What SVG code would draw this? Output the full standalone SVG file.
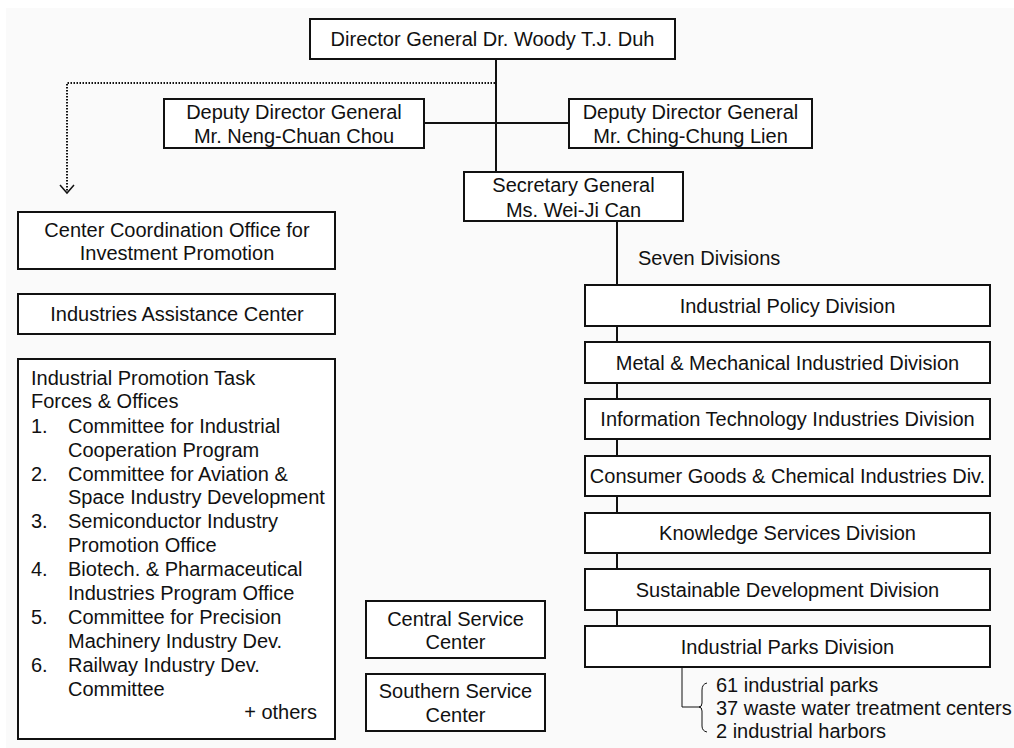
<svg xmlns="http://www.w3.org/2000/svg" width="1014" height="748" viewBox="0 0 1014 748">
<style>
  .box { fill: #ffffff; stroke: #111111; stroke-width: 2; }
  .t { font-family: "Liberation Sans", Arial, sans-serif; font-size: 20px; fill: #111111; }
  .c { text-anchor: middle; }
  .r { text-anchor: end; }
  .ln { stroke: #111111; stroke-width: 2; fill: none; }
  .thin { stroke: #111111; stroke-width: 1; fill: none; }
  .dot { stroke: #111111; stroke-width: 2; fill: none; stroke-dasharray: 1.5 1.5; }
</style>
<rect x="0" y="0" width="1014" height="748" fill="#ffffff"/>
<rect x="6" y="8" width="1008" height="740" fill="#fafafa"/>

<g id="connectors">
  <line class="ln" x1="496" y1="59" x2="496" y2="172"/>
  <line class="ln" x1="424" y1="123" x2="569" y2="123"/>
  <polyline class="dot" points="495,83 67,83 67,192"/>
  <polyline class="ln" points="60,185 67,193 74,185" style="stroke-width:1.5"/>
  <line class="ln" x1="617" y1="221" x2="617" y2="285"/>
  <line class="ln" x1="617" y1="326" x2="617" y2="342"/>
  <line class="ln" x1="617" y1="383" x2="617" y2="399"/>
  <line class="ln" x1="617" y1="439" x2="617" y2="456"/>
  <line class="ln" x1="617" y1="496" x2="617" y2="513"/>
  <line class="ln" x1="617" y1="553" x2="617" y2="569"/>
  <line class="ln" x1="617" y1="610" x2="617" y2="626"/>
  <polyline class="thin" points="682,667 682,707 701,707"/>
  <path class="thin" d="M707,683 Q702,684 702,690 L702,703 Q702,707 699,707 Q702,707 702,711 L702,726 Q702,731 707,732"/>
</g>

<g id="director">
  <rect class="box" x="310" y="19" width="365" height="40"/>
  <text class="t c" x="492.5" y="46">Director General Dr. Woody T.J. Duh</text>
</g>
<g id="deputy-left">
  <rect class="box" x="164" y="99" width="260" height="49"/>
  <text class="t c" x="294" y="119">Deputy Director General</text>
  <text class="t c" x="294" y="143">Mr. Neng-Chuan Chou</text>
</g>
<g id="deputy-right">
  <rect class="box" x="569" y="99" width="243" height="49"/>
  <text class="t c" x="690.5" y="119">Deputy Director General</text>
  <text class="t c" x="690.5" y="143">Mr. Ching-Chung Lien</text>
</g>
<g id="secretary">
  <rect class="box" x="464" y="172" width="219" height="49"/>
  <text class="t c" x="573.5" y="192">Secretary General</text>
  <text class="t c" x="573.5" y="217">Ms. Wei-Ji Can</text>
</g>
<g id="seven-divisions-label">
  <text class="t" x="638" y="265">Seven Divisions</text>
</g>

<g id="div-policy">
  <rect class="box" x="585" y="285" width="405" height="41"/>
  <text class="t c" x="787.5" y="312.5">Industrial Policy Division</text>
</g>
<g id="div-metal">
  <rect class="box" x="585" y="342" width="405" height="41"/>
  <text class="t c" x="787.5" y="369.5">Metal &amp; Mechanical Industried Division</text>
</g>
<g id="div-it">
  <rect class="box" x="585" y="399" width="405" height="40"/>
  <text class="t c" x="787.5" y="426">Information Technology Industries Division</text>
</g>
<g id="div-consumer">
  <rect class="box" x="585" y="456" width="405" height="40"/>
  <text class="t c" x="787.5" y="483">Consumer Goods &amp; Chemical Industries Div.</text>
</g>
<g id="div-knowledge">
  <rect class="box" x="585" y="513" width="405" height="40"/>
  <text class="t c" x="787.5" y="540">Knowledge Services Division</text>
</g>
<g id="div-sustainable">
  <rect class="box" x="585" y="569" width="405" height="41"/>
  <text class="t c" x="787.5" y="596.5">Sustainable Development Division</text>
</g>
<g id="div-parks">
  <rect class="box" x="585" y="626" width="405" height="41"/>
  <text class="t c" x="787.5" y="653.5">Industrial Parks Division</text>
</g>
<g id="parks-list">
  <text class="t" x="716" y="692">61 industrial parks</text>
  <text class="t" x="716" y="715">37 waste water treatment centers</text>
  <text class="t" x="716" y="738">2 industrial harbors</text>
</g>

<g id="cco">
  <rect class="box" x="18" y="212" width="317" height="57"/>
  <text class="t c" x="177" y="237">Center Coordination Office for</text>
  <text class="t c" x="177" y="260">Investment Promotion</text>
</g>
<g id="iac">
  <rect class="box" x="18" y="294" width="317" height="40"/>
  <text class="t c" x="177" y="321">Industries Assistance Center</text>
</g>
<g id="task-forces">
  <rect class="box" x="18" y="359" width="317" height="380"/>
  <text class="t" x="31" y="385">Industrial Promotion Task</text>
  <text class="t" x="31" y="408">Forces &amp; Offices</text>
  <text class="t" x="31" y="433">1.</text>
  <text class="t" x="68" y="433">Committee for Industrial</text>
  <text class="t" x="68" y="457">Cooperation Program</text>
  <text class="t" x="31" y="481">2.</text>
  <text class="t" x="68" y="481">Committee for Aviation &amp;</text>
  <text class="t" x="68" y="504">Space Industry Development</text>
  <text class="t" x="31" y="528">3.</text>
  <text class="t" x="68" y="528">Semiconductor Industry</text>
  <text class="t" x="68" y="552">Promotion Office</text>
  <text class="t" x="31" y="576">4.</text>
  <text class="t" x="68" y="576">Biotech. &amp; Pharmaceutical</text>
  <text class="t" x="68" y="600">Industries Program Office</text>
  <text class="t" x="31" y="624">5.</text>
  <text class="t" x="68" y="624">Committee for Precision</text>
  <text class="t" x="68" y="648">Machinery Industry Dev.</text>
  <text class="t" x="31" y="672">6.</text>
  <text class="t" x="68" y="672">Railway Industry Dev.</text>
  <text class="t" x="68" y="696">Committee</text>
  <text class="t r" x="317" y="719">+ others</text>
</g>

<g id="central-service">
  <rect class="box" x="366" y="601" width="179" height="57"/>
  <text class="t c" x="455.5" y="626">Central Service</text>
  <text class="t c" x="455.5" y="649">Center</text>
</g>
<g id="southern-service">
  <rect class="box" x="366" y="674" width="179" height="57"/>
  <text class="t c" x="455.5" y="698">Southern Service</text>
  <text class="t c" x="455.5" y="722">Center</text>
</g>
</svg>
